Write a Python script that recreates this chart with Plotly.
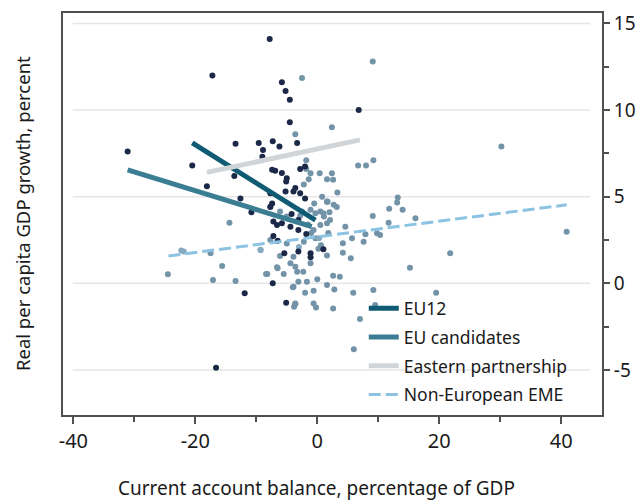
import plotly.graph_objects as go

# Scatter data: current account balance (% GDP) vs real per capita GDP growth (%)
dark_x = [-7.8, -17.2, -5.8, -5.2, -4.5, -4.5, 6.8, -31.1, -20.5, -18.1, -13.4, -9.6, -8.9, -7.3, -6.2,
          -3.3, -12.6, -10.8, -7.4, -6.9, -5.8, -5.0, -5.1, -2.8, -2.0, -3.6, -3.9, -2.8, -2.0, -5.2,
          -7.7, -7.4, -7.7, -13.6, -7.2, -6.6, -5.8, -3.1, -4.4, -7.2, -6.5, -3.1, -1.8, -11.9, -7.3,
          -5.4, -3.1, -1.1, -1.1, 1.0, -5.1, -16.6, -9.0, -4.2]
dark_y = [14.1, 12.0, 11.6, 11.1, 10.6, 9.3, 10.0, 7.6, 6.8, 5.6, 8.05, 8.1, 7.7, 8.2, 7.9,
          8.1, 4.9, 4.1, 6.55, 6.5, 6.36, 6.07, 5.87, 6.6, 6.74, 5.5, 5.3, 5.2, 4.9, 5.3,
          5.2, 4.6, 4.4, 6.2, 3.56, 3.37, 3.47, 3.66, 3.27, 2.73, 2.46, 3.08, 2.85, -0.58, 0.0,
          1.73, 1.83, 1.73, 1.5, 1.97, -1.12, -4.88, 7.3, 4.0]

gray_x = [-2.5, 9.1, 30.2, 2.4, 6.7, 8.0, 9.2, -3.6, -1.8, -1.8, -1.4, -2.2, -1.1, 0.4, 1.6,
          1.6, -14.4, -1.1, -0.3, 0.5, 1.1, -2.5, -2.8, -0.6, 0.5, 1.6, -17.5, -9.3, -15.6, -17.1,
          -13.4, -8.4, -6.6, -6.1, -3.9, -4.4, -3.6, -3.3, -2.3, -1.1, -3.9, -3.1, -1.7, 0.0, 1.6,
          -2.0, -0.6, -3.6, -3.8, -0.6, -0.2, -24.5, 2.4, 2.6, 3.3, 1.7, 3.2, 13.2, 13.1, 14.0,
          11.8, 16.1, 9.1, 11.7, 4.6, 5.7, 4.2, 7.6, 7.9, 9.8, 10.3, 4.2, 5.5, 15.2, 2.6,
          3.7, 2.8, 5.9, 9.2, 9.5, 2.6, 7.0, 6.0, 19.5, 40.9, 21.8, -8.2, -6.5, -5.5, -5.0,
          -7.7, 1.6, -4.0, -0.5, 0.8, 2.0, -0.3, 0.6, 1.8, -2.2, -1.5, -7.7, -6.1, -5.0, 1.0,
          2.1, 2.7, 1.6, -3.6, 0.2, -1.0]
gray_y = [11.85, 12.8, 7.9, 9.0, 6.8, 6.8, 7.1, 8.6, 7.1, 6.6, 6.0, 5.7, 6.35, 6.35, 6.0,
          4.7, 3.5, 4.24, 4.05, 4.14, 3.85, 4.14, 3.9, 3.08, 3.37, 3.47, 1.73, 1.92, 1.0, 0.19,
          0.13, 0.54, 0.92, 1.58, 1.54, 1.16, 0.96, 0.67, 0.67, 1.16, -0.2, 0.09, 0.09, 0.23, -0.1,
          -0.54, -0.43, -1.16, -1.35, -1.16, -1.39, 0.52, 6.35, 5.97, 5.24, 4.7, 4.4, 4.95, 4.66, 4.24,
          4.3, 3.76, 3.89, 3.5, 3.27, 2.6, 2.31, 2.4, 2.83, 2.89, 2.79, 1.77, 1.45, 0.9, 0.44,
          0.38, -0.35, -0.54, -0.39, -1.25, -1.45, -2.06, -3.8, -0.54, 2.98, 1.73, 0.54, 0.87, 0.54, 2.3,
          2.5, 1.6, -0.23, 4.6, 5.0, 4.1, 2.6, 2.2, 2.9, 2.4, 3.4, 4.43, 4.14, 3.85, 4.05,
          3.66, 4.53, 4.72, -1.2, 2.0, 2.9]

light_x = [-21.9, -22.3, -9.3, -3.0, 0.3]
light_y = [1.83, 1.9, 1.92, 2.1, 2.6]

# Regression lines (start/end)
series_names = ["EU12", "EU candidates", "Eastern partnership", "Non-European EME"]
line_x = [[-20.5, -0.3], [-31.1, -0.9], [-18.1, 7.0], [-24.4, 40.9]]
line_y = [[8.1, 3.65], [6.55, 3.27], [6.4, 8.28], [1.58, 4.53]]
line_colors = ["#0f5b73", "#3b7d93", "#d2d5d7", "#8cc2e2"]
line_widths = [5, 5, 5, 3]
line_dash = ["solid", "solid", "solid", "12px,5px"]

x_ticks = [-40, -20, 0, 20, 40]
x_ticktext = ["-40", "-20", "0", "20", "40"]
y_ticks = [-5, 0, 5, 10, 15]
y_ticktext = ["-5", "0", "5", "10", "15"]

fig = go.Figure()

fig.add_trace(go.Scatter(x=gray_x, y=gray_y, mode="markers", showlegend=False,
                         marker=dict(size=6, color="#7394a8")))
fig.add_trace(go.Scatter(x=light_x, y=light_y, mode="markers", showlegend=False,
                         marker=dict(size=6, color="#86aac0")))
fig.add_trace(go.Scatter(x=dark_x, y=dark_y, mode="markers", showlegend=False,
                         marker=dict(size=6, color="#1c2848")))

for name, lx, ly, c, w, d in zip(series_names, line_x, line_y, line_colors, line_widths, line_dash):
    fig.add_trace(go.Scatter(x=lx, y=ly, mode="lines", name=name, legendgroup=name,
                             line=dict(color=c, width=w, dash=d)))

# inset horizontal gridlines
for yt in y_ticks:
    fig.add_shape(type="line", xref="paper", yref="y", x0=0.018, x1=0.978, y0=yt, y1=yt,
                  line=dict(color="#e6e6e6", width=1.5), layer="below")

axis_col = "#505050"
fig.update_layout(
    width=636, height=501,
    margin=dict(l=63, r=34, t=13, b=86, autoexpand=False),
    plot_bgcolor="white", paper_bgcolor="white",
    font=dict(family="Noto Sans", size=19, color="#1a1a1a"),
    showlegend=True,
    legend=dict(x=0.558, y=0.31, xanchor="left", yanchor="top",
                bgcolor="rgba(0,0,0,0)", font=dict(size=17.5),
                itemwidth=30, tracegroupgap=3),
    xaxis=dict(range=[-41.7, 46.7], tickvals=x_ticks, ticktext=x_ticktext,
               showgrid=False, zeroline=False, automargin=False,
               showline=True, mirror=True, linecolor=axis_col, linewidth=2,
               ticks="outside", ticklen=7, tickcolor=axis_col, tickwidth=1.5,
               tickfont=dict(size=20),
               minor=dict(tickvals=[-30, -10, 10, 30], ticks="outside", ticklen=5,
                          tickcolor=axis_col, tickwidth=1.5)),
    yaxis=dict(range=[-7.6, 15.6], tickvals=y_ticks, ticktext=y_ticktext, side="right",
               showgrid=False, zeroline=False, automargin=False,
               showline=True, mirror=True, linecolor=axis_col, linewidth=2,
               ticks="outside", ticklen=6, tickcolor=axis_col, tickwidth=1.5,
               tickfont=dict(size=19),
               minor=dict(tickvals=[-2.5, 2.5, 7.5, 12.5], ticks="outside", ticklen=5,
                          tickcolor=axis_col, tickwidth=1.5)),
    annotations=[
        dict(text="Real per capita GDP growth, percent", xref="paper", yref="paper",
             x=-0.076, y=0.5, textangle=-90, showarrow=False, xanchor="center",
             yanchor="middle", font=dict(size=18.5)),
        dict(text="Current account balance, percentage of GDP", xref="paper", yref="paper",
             x=0.471, y=-0.181, showarrow=False, xanchor="center", yanchor="middle",
             font=dict(size=19)),
    ],
)

fig.write_html("out.html", config={"displayModeBar": False},
               post_script="document.body.style.margin='0';document.body.style.padding='0';")
